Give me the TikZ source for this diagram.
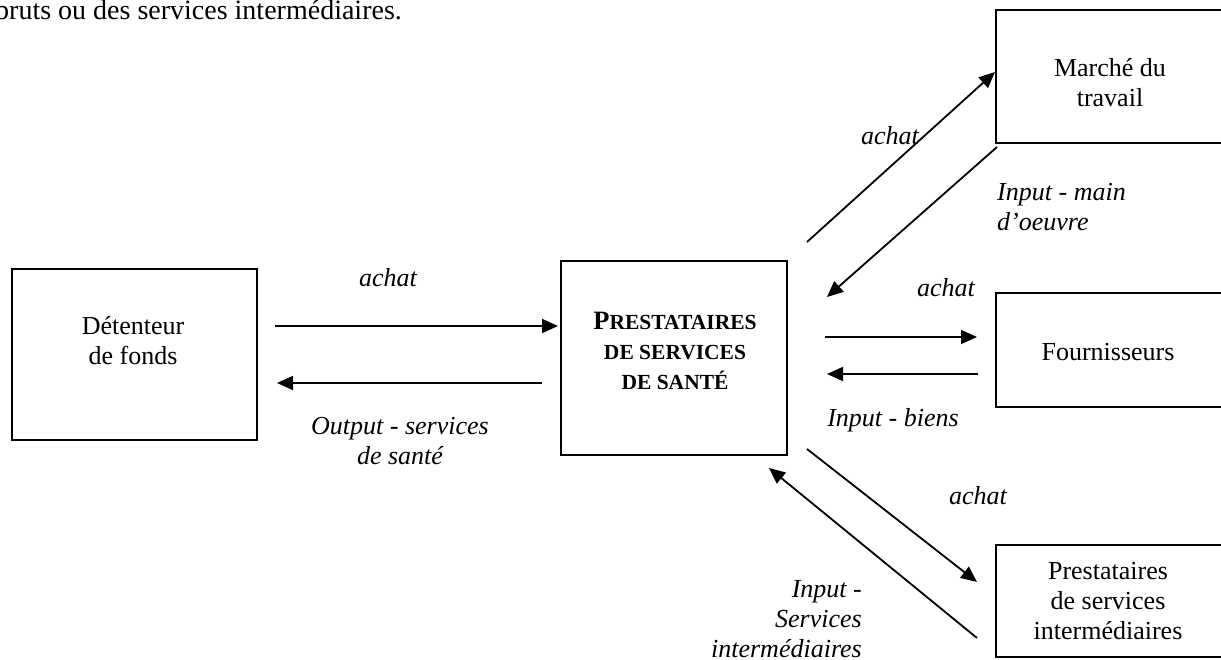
\documentclass[tikz,border=0pt]{standalone}
\usepackage{fontspec}
\setmainfont{Liberation Serif}
\usetikzlibrary{arrows.meta}
\begin{document}
\begin{tikzpicture}[x=1pt,y=-1pt,
  box/.style={draw,line width=2pt,rectangle,inner sep=0pt},
  txt/.style={align=center,font=\fontsize{26}{30}\selectfont,inner sep=0pt},
  lbl/.style={font=\fontsize{26}{30}\selectfont\itshape,inner sep=0pt},
  arr/.style={-{Triangle[length=16pt,width=14pt]},line width=1.8pt}]
\useasboundingbox (0,0) rectangle (1221,659);
\clip (0,0) rectangle (1221,659);
% top body text
\node[anchor=base west,inner sep=0pt,font=\fontsize{28}{32}\selectfont] (body) at (-5,19) {bruts ou des services intermédiaires.};
% boxes
\node[box,minimum width=245pt,minimum height=171pt] (det) at (134.5,354.5) {};
\node[txt] (detT) at (133,341) {Détenteur\\de fonds};
\node[box,minimum width=226pt,minimum height=194pt] (prest) at (674,358) {};
\node[align=center,inner sep=0pt,font=\bfseries\fontsize{21.5}{30}\selectfont] (prestT) at (675,351)
  {{\fontsize{26.5}{30}\selectfont P}RESTATAIRES\\DE SERVICES\\DE SANTÉ};
\node[box,minimum width=229pt,minimum height=133pt] (march) at (1110.5,76.5) {};
\node[txt] (marchT) at (1110,83) {Marché du\\travail};
\node[box,minimum width=229pt,minimum height=114pt] (four) at (1110.5,350) {};
\node[txt] (fourT) at (1108,352) {Fournisseurs};
\node[box,minimum width=229pt,minimum height=112pt] (inter) at (1110.5,601) {};
\node[txt] (interT) at (1108,601) {Prestataires\\de services\\intermédiaires};
% arrow end points
\coordinate (a1s) at (275,326); \coordinate (a1e) at (558,326);
\coordinate (a2s) at (542,383); \coordinate (a2e) at (277,383);
\coordinate (a3s) at (807,242); \coordinate (a3e) at (995,72);
\coordinate (a4s) at (997,147); \coordinate (a4e) at (827,297);
\coordinate (a5s) at (825,337); \coordinate (a5e) at (977,337);
\coordinate (a6s) at (978,374); \coordinate (a6e) at (827,374);
\coordinate (a7s) at (807,449); \coordinate (a7e) at (977,582);
\coordinate (a8s) at (977,638); \coordinate (a8e) at (769,468);
\draw[arr] (a1s) -- (a1e);
\draw[arr] (a2s) -- (a2e);
\draw[arr] (a3s) -- (a3e);
\draw[arr] (a4s) -- (a4e);
\draw[arr] (a5s) -- (a5e);
\draw[arr] (a6s) -- (a6e);
\draw[arr] (a7s) -- (a7e);
\draw[arr] (a8s) -- (a8e);
% labels
\node[lbl] (l1) at (388,278) {achat};
\node[lbl,align=center] (l2) at (400,441) {Output - services\\de santé};
\node[lbl] (l3) at (890,136) {achat};
\node[lbl,align=left,anchor=west] (l4) at (997,207) {Input - main\\d'oeuvre};
\node[lbl] (l5) at (946,288) {achat};
\node[lbl] (l6) at (893,420) {Input - biens};
\node[lbl] (l7) at (978,496) {achat};
\node[lbl,align=right,anchor=east] (l8) at (862,619) {Input -\\Services\\intermédiaires};
\end{tikzpicture}
\end{document}
